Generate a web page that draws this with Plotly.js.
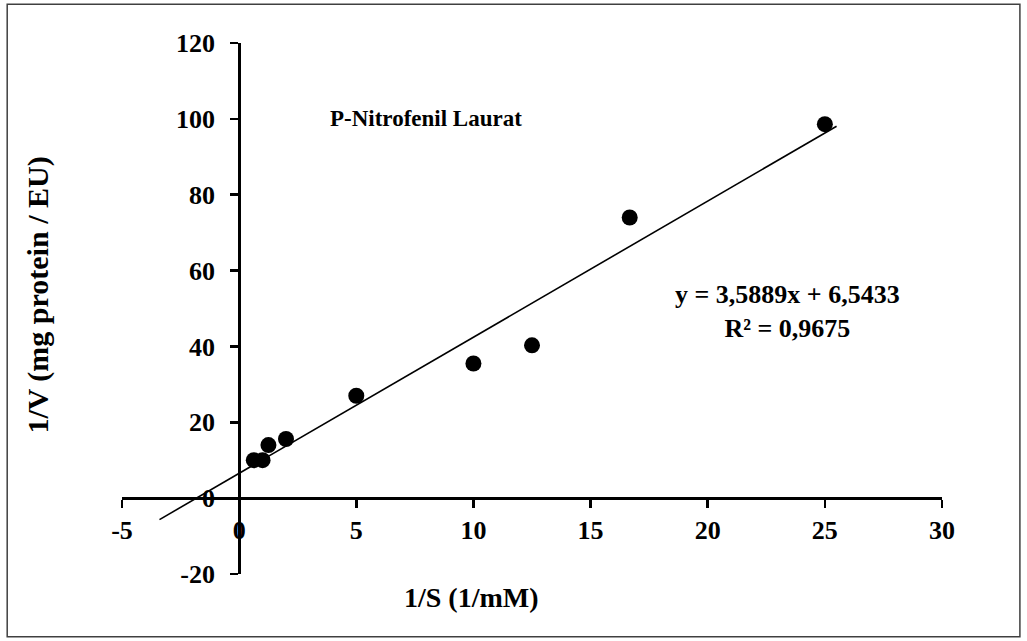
<!DOCTYPE html>
<html>
<head>
<meta charset="utf-8">
<script src="https://cdn.plot.ly/plotly-3.0.1.min.js"></script>
<style>html,body{margin:0;padding:0;background:#fff;}#chart{width:1027px;height:641px;}</style>
</head>
<body>
<div id="chart"></div>
<script>
// Data (1/S in 1/mM, 1/V in mg protein / EU)
const invS = [0.625, 1, 1.25, 2, 5, 10, 12.5, 16.67, 25];
const invV = [10, 10, 14, 15.6, 27, 35.5, 40.3, 74, 98.6];
// Linear trendline coefficients and its drawn extent
const slope = 3.5889;
const intercept = 6.5433;
const rSquared = 0.9675;
const trendRange = [-3.4, 25.5];
const xTicks = [-5, 0, 5, 10, 15, 20, 25, 30];
const yTicks = [-20, 0, 20, 40, 60, 80, 100, 120];
const chartTitle = 'P-Nitrofenil Laurat';
const xTitle = '1/S (1/mM)';
const yTitle = '1/V (mg protein / EU)';

const trendY = trendRange.map(x => slope * x + intercept);
const fmt = v => String(v).replace('.', ',');
const eqText = 'y = ' + fmt(slope) + 'x + ' + fmt(intercept) + '<br>R² = ' + fmt(rSquared);

const FAM = 'Liberation Serif, Times New Roman, serif';
const F = {family: FAM, size: 26, color: '#000', weight: 700};
const FT = {family: FAM, size: 23, color: '#000', weight: 700};
const FX = {family: FAM, size: 28, color: '#000', weight: 700};
const FY = {family: FAM, size: 30, color: '#000', weight: 700};

const traces = [
  {x: trendRange, y: trendY, mode: 'lines', type: 'scatter',
   line: {color: '#000', width: 1.6}, hoverinfo: 'skip', cliponaxis: false},
  {x: invS, y: invV, mode: 'markers', type: 'scatter',
   marker: {color: '#000', size: 16}, cliponaxis: false}
];

const layout = {
  width: 1027, height: 641,
  margin: {l: 122, r: 85, t: 43, b: 67},
  paper_bgcolor: '#fff', plot_bgcolor: '#fff',
  showlegend: false,
  font: F,
  xaxis: {
    range: [-5, 30], tickvals: xTicks, ticktext: xTicks.map(String),
    anchor: 'free', position: 1/7,
    showline: true, linecolor: '#000', linewidth: 2.5,
    ticks: 'outside', ticklen: 8, tickwidth: 2.5, tickcolor: '#000',
    showgrid: false, zeroline: false, ticklabelstandoff: 0,
    tickfont: F
  },
  yaxis: {
    range: [-20, 120], tickvals: yTicks, ticktext: yTicks.map(String),
    anchor: 'free', position: 1/7,
    showline: true, linecolor: '#000', linewidth: 2.5,
    ticks: 'outside', ticklen: 8, tickwidth: 2.5, tickcolor: '#000',
    showgrid: false, zeroline: false, ticklabelstandoff: 10,
    tickfont: F
  },
  annotations: [
    {text: chartTitle, xref: 'x', yref: 'y', x: 3.78, y: 100.2, xanchor: 'left', yanchor: 'middle', showarrow: false, font: FT},
    {text: eqText, xref: 'x', yref: 'y', x: 23.4, y: 49.3, xanchor: 'center', yanchor: 'middle', align: 'center', showarrow: false, font: F},
    {text: xTitle, xref: 'paper', yref: 'paper', x: 0.426, y: -0.045, xanchor: 'center', yanchor: 'middle', showarrow: false, font: FX},
    {text: yTitle, xref: 'paper', yref: 'paper', x: -0.102, y: 0.525, xanchor: 'center', yanchor: 'middle', textangle: -90, showarrow: false, font: FY}
  ],
  shapes: [
    {type: 'rect', xref: 'paper', yref: 'paper', x0: -0.140, x1: 1.095, y0: -0.118, y1: 1.073,
     line: {color: '#404040', width: 1.5}, fillcolor: 'rgba(0,0,0,0)'}
  ]
};

Plotly.newPlot('chart', traces, layout, {displayModeBar: false, staticPlot: true});
</script>
</body>
</html>
